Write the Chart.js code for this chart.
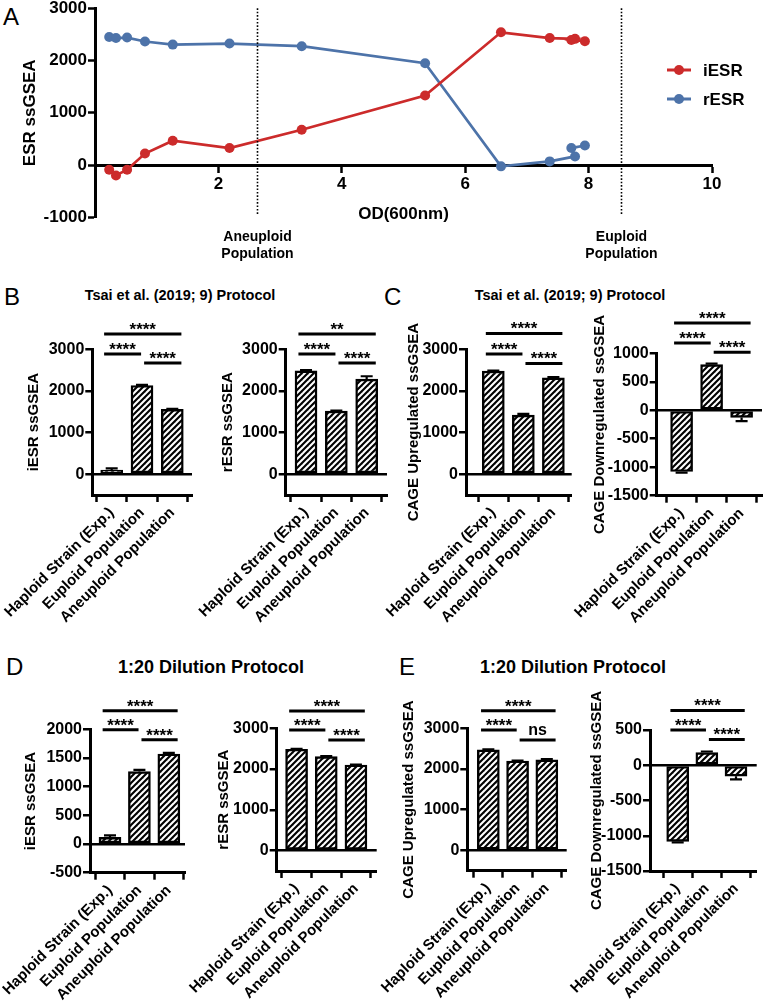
<!DOCTYPE html>
<html><head><meta charset="utf-8">
<script src="https://cdn.jsdelivr.net/npm/chart.js@4.4.1/dist/chart.umd.min.js"></script>
<style>
html,body{margin:0;padding:0;background:#fff;width:763px;height:1001px;overflow:hidden;position:relative;font-family:'Liberation Sans',Arial,sans-serif;}
canvas{position:absolute;}
.lbl{position:absolute;white-space:nowrap;color:#000;}
.letter{font-size:24px;line-height:24px;font-weight:normal;}
.ttl{font-weight:bold;transform:translateX(-50%);}
</style></head><body>
<div class="lbl letter" style="left:3px;top:5px">A</div>
<div class="lbl letter" style="left:4px;top:285px">B</div>
<div class="lbl letter" style="left:384px;top:285px">C</div>
<div class="lbl letter" style="left:6px;top:655px">D</div>
<div class="lbl letter" style="left:399px;top:655px">E</div>
<div class="lbl ttl" style="left:180px;top:288px;font-size:14.5px;line-height:14px">Tsai et al. (2019; 9) Protocol</div>
<div class="lbl ttl" style="left:570px;top:288px;font-size:14.5px;line-height:14px">Tsai et al. (2019; 9) Protocol</div>
<div class="lbl ttl" style="left:211px;top:658px;font-size:18px;line-height:18px">1:20 Dilution Protocol</div>
<div class="lbl ttl" style="left:573px;top:658px;font-size:18px;line-height:18px">1:20 Dilution Protocol</div>
<script>
const FONT = "'Liberation Sans', Arial, sans-serif";
const RED = '#cc2b2b';
const BLUE = '#4d73a9';

// ---------- Panel A data ----------
const odValues = [0.23, 0.34, 0.52, 0.81, 1.26, 2.18, 3.35, 5.35, 6.58, 7.37, 7.78, 7.72, 7.94];
const iESR = [-90, -200, -90, 220, 465, 325, 675, 1330, 2540, 2430, 2415, 2395, 2370];
const rESR = [2450, 2430, 2440, 2365, 2305, 2325, 2275, 1950, -25, 70, 165, 325, 375];
const odTicks = [2, 4, 6, 8, 10];
const esrTicks = [-1000, 0, 1000, 2000, 3000];
const phaseOD = [2.62, 8.52];
const phaseLabels = [['Aneuploid', 'Population'], ['Euploid', 'Population']];

// ---------- Bar panels data ----------
const categories = ['Haploid Strain (Exp.)', 'Euploid Population', 'Aneuploid Population'];
const tsaiIESR = [100, 2130, 1555];
const tsaiIESRErr = [40, 15, 15];
const tsaiRESR = [2483, 1515, 2283];
const tsaiRESRErr = [15, 15, 70];
const tsaiCageUp = [2476, 1418, 2315];
const tsaiCageUpErr = [15, 30, 15];
const tsaiCageDown = [-1075, 800, -125];
const tsaiCageDownErr = [20, 20, 65];
const dilIESR = [115, 1263, 1570];
const dilIESRErr = [35, 30, 20];
const dilRESR = [2487, 2305, 2100];
const dilRESRErr = [10, 15, 10];
const dilCageUp = [2470, 2195, 2225];
const dilCageUpErr = [10, 10, 15];
const dilCageDown = [-1080, 180, -155];
const dilCageDownErr = [15, 15, 45];
// significance: [Haploid vs Aneuploid, Haploid vs Euploid, Euploid vs Aneuploid]
const sigTsaiIESR = ['****', '****', '****'];
const sigTsaiRESR = ['**', '****', '****'];
const sigTsaiCageUp = ['****', '****', '****'];
const sigTsaiCageDown = ['****', '****', '****'];
const sigDilIESR = ['****', '****', '****'];
const sigDilRESR = ['****', '****', '****'];
const sigDilCageUp = ['****', '****', 'ns'];
const sigDilCageDown = ['****', '****', '****'];
const ticks3000 = [0, 1000, 2000, 3000];
const ticksDown1000 = [-1500, -1000, -500, 0, 500, 1000];
const ticks2000 = [-500, 0, 500, 1000, 1500, 2000];
const ticksDown500 = [-1500, -1000, -500, 0, 500];

// ---------- Panel A ----------
const phasePlugin = {
  id: 'phase',
  afterDraw(chart, args, o) {
    const {ctx} = chart; const x = chart.scales.x, y = chart.scales.y;
    ctx.save();
    ctx.strokeStyle = '#000'; ctx.lineWidth = 1.6; ctx.setLineDash([1.6, 1.8]);
    o.xs.forEach((v, i) => {
      const px = Math.round(x.getPixelForValue(v)) + 0.5;
      ctx.beginPath(); ctx.moveTo(px, y.getPixelForValue(y.max)); ctx.lineTo(px, y.getPixelForValue(y.min) - 2); ctx.stroke();
      ctx.fillStyle = '#000'; ctx.font = 'bold 14px ' + FONT; ctx.textAlign = 'center'; ctx.textBaseline = 'middle';
      o.labels[i].forEach((t, j) => ctx.fillText(t, px, o.labelY + j * 17));
    });
    ctx.setLineDash([]);
    // legend
    chart.data.datasets.forEach((ds, i) => {
      const ly = o.legendY + i * o.legendGap;
      ctx.strokeStyle = ds.borderColor; ctx.fillStyle = ds.borderColor; ctx.lineWidth = 3;
      ctx.beginPath(); ctx.moveTo(o.legendX, ly); ctx.lineTo(o.legendX + 24, ly); ctx.stroke();
      ctx.beginPath(); ctx.arc(o.legendX + 12, ly, 5, 0, Math.PI * 2); ctx.fill();
      ctx.fillStyle = '#000'; ctx.font = 'bold 17px ' + FONT; ctx.textAlign = 'left'; ctx.textBaseline = 'middle';
      ctx.fillText(ds.label, o.legendX + 36, ly + 1);
    });
    ctx.restore();
  }
};

(function () {
  const cv = document.createElement('canvas');
  cv.width = 763; cv.height = 270; cv.style.left = '0px'; cv.style.top = '0px';
  document.body.appendChild(cv);
  const L = 95, R = 712, T = 8.3, B = 217.3;
  new Chart(cv, {
    type: 'line',
    data: {datasets: [
      {label: 'iESR', data: odValues.map((x, i) => ({x, y: iESR[i]})), borderColor: RED, backgroundColor: RED,
       pointBackgroundColor: RED, pointRadius: 5, pointBorderWidth: 0, borderWidth: 2.7, tension: 0},
      {label: 'rESR', data: odValues.map((x, i) => ({x, y: rESR[i]})), borderColor: BLUE, backgroundColor: BLUE,
       pointBackgroundColor: BLUE, pointRadius: 5, pointBorderWidth: 0, borderWidth: 2.7, tension: 0}
    ]},
    options: {
      responsive: false, animation: false, devicePixelRatio: 1,
      layout: {padding: {left: 0, top: T, right: 763 - R, bottom: 270 - B}},
      plugins: {legend: {display: false}, tooltip: {enabled: false},
        phase: {xs: phaseOD, labels: phaseLabels, labelY: 237, legendX: 667, legendY: 70, legendGap: 29}},
      scales: {
        x: {type: 'linear', position: {y: 0}, min: 0, max: 10,
          afterBuildTicks: s => { s.ticks = odTicks.map(v => ({value: v})); },
          ticks: {color: '#000', padding: 3, font: {family: FONT, size: 17, weight: 'bold'}, callback: v => String(v)},
          grid: {drawOnChartArea: false, tickLength: 6, tickWidth: 2.5, tickColor: '#000', color: '#000'},
          border: {color: '#000', width: 3},
          title: {display: true, text: 'OD(600nm)', color: '#000', font: {family: FONT, size: 17, weight: 'bold'}, padding: {top: 7, bottom: 0}}
        },
        y: {type: 'linear', min: -1000, max: 3000,
          afterBuildTicks: s => { s.ticks = esrTicks.map(v => ({value: v})); },
          afterFit: s => { s.width = L; s.paddingTop = 0; s.paddingBottom = 0; },
          ticks: {color: '#000', padding: 1, font: {family: FONT, size: 17, weight: 'bold'}, callback: v => String(v)},
          grid: {drawOnChartArea: false, tickLength: 7, tickWidth: 2.5, tickColor: '#000', color: '#000'},
          border: {color: '#000', width: 3},
          title: {display: true, text: 'ESR ssGSEA', color: '#000', font: {family: FONT, size: 17, weight: 'bold'}, padding: {top: 20, bottom: 0}}
        }
      }
    },
    plugins: [phasePlugin]
  });
})();

// ---------- Bar panels ----------
function hatchPattern() {
  const n = 6;
  const c = document.createElement('canvas'); c.width = n; c.height = n;
  const g = c.getContext('2d');
  g.fillStyle = '#fff'; g.fillRect(0, 0, n, n);
  g.strokeStyle = '#000'; g.lineWidth = 2.1;
  [[-n, 0], [0, 0], [n, 0]].forEach(([dx]) => {
    g.beginPath(); g.moveTo(dx - 1, n + 1); g.lineTo(dx + n + 1, -1); g.stroke();
  });
  return g.createPattern(c, 'repeat');
}
const HATCH = hatchPattern();

const barExtras = {
  id: 'barExtras',
  afterDatasetsDraw(chart, args, o) {
    const {ctx} = chart; const x = chart.scales.x, y = chart.scales.y;
    ctx.save();
    ctx.strokeStyle = '#000'; ctx.lineWidth = 2.2;
    o.errors.forEach((e, i) => {
      const v = o.values[i]; const end = v >= 0 ? v + e : v - e;
      const px = x.getPixelForValue(i), y0 = y.getPixelForValue(v), y1 = y.getPixelForValue(end);
      ctx.beginPath(); ctx.moveTo(px, y0); ctx.lineTo(px, y1);
      ctx.moveTo(px - 6, y1); ctx.lineTo(px + 6, y1); ctx.stroke();
    });
    ctx.lineWidth = 3; ctx.fillStyle = '#000';
    ctx.textAlign = 'center'; ctx.textBaseline = 'alphabetic';
    o.brackets.forEach((b, k) => {
      const x0 = x.getPixelForValue(b[0]), x1 = x.getPixelForValue(b[1]), py = y.getPixelForValue(o.levels[k]);
      ctx.beginPath(); ctx.moveTo(x0, py); ctx.lineTo(x1, py); ctx.stroke();
      const t = o.labels[k];
      if (t === 'ns') { ctx.font = 'bold 16px ' + FONT; ctx.fillText(t, (x0 + x1) / 2, py - 5); }
      else { ctx.font = 'bold 17px ' + FONT; ctx.fillText(t, (x0 + x1) / 2, py + 1); }
    });
    ctx.restore();
  }
};

const bracketSpans = [[-0.25, 2.3], [-0.25, 0.97], [1.07, 2.3]];

function makeBar(p) {
  const cl = Math.floor(p.L - 115), ct = Math.floor(p.T - 48);
  const cr = Math.ceil(p.R + 8), cb = Math.ceil(p.B + 150);
  const cv = document.createElement('canvas');
  cv.width = cr - cl; cv.height = cb - ct;
  cv.style.left = cl + 'px'; cv.style.top = ct + 'px';
  document.body.appendChild(cv);
  new Chart(cv, {
    type: 'bar',
    data: {datasets: [{
      data: p.values.map((v, i) => ({x: i, y: v})),
      backgroundColor: HATCH, borderColor: '#000', borderWidth: 2.4, borderSkipped: false, barThickness: 22
    }]},
    options: {
      responsive: false, animation: false, devicePixelRatio: 1,
      layout: {padding: {left: 0, top: p.T - ct, right: cr - p.R, bottom: 0}},
      plugins: {legend: {display: false}, tooltip: {enabled: false},
        barExtras: {values: p.values, errors: p.errors, brackets: bracketSpans, levels: p.levels, labels: p.sig}},
      scales: {
        x: {type: 'linear', min: p.xMin, max: p.xMax, offset: false,
          afterBuildTicks: s => { s.ticks = categories.map((c, i) => ({value: i})); },
          afterFit: s => { s.height = cb - p.B; s.paddingLeft = 0; s.paddingRight = 0; },
          ticks: {autoSkip: false, minRotation: 45, maxRotation: 45, padding: 2, color: '#000',
            font: {family: FONT, size: 15, weight: 'bold'}, callback: v => categories[v]},
          grid: {drawOnChartArea: false, tickLength: 7, tickWidth: 2.5, tickColor: '#000', color: '#000'},
          border: {color: '#000', width: 3}
        },
        y: {type: 'linear', min: p.yMin, max: p.yMax,
          afterBuildTicks: s => { s.ticks = p.yTicks.map(v => ({value: v})); },
          afterFit: s => { s.width = p.L - cl; s.paddingTop = 0; s.paddingBottom = 0; },
          ticks: {padding: 1, color: '#000', font: {family: FONT, size: 16, weight: 'bold'}, callback: v => String(v)},
          grid: {drawOnChartArea: true, color: c => (c.tick && c.tick.value === 0) ? '#000' : 'rgba(0,0,0,0)',
            lineWidth: 2.5, tickColor: '#000', tickWidth: 2.5, tickLength: 7},
          border: {color: '#000', width: 3},
          title: {display: true, text: p.title, color: '#000', font: {family: FONT, size: 15, weight: 'bold'},
            padding: {top: p.titleX - cl - 9, bottom: 0}}
        }
      }
    },
    plugins: [barExtras]
  });
}

makeBar({L: 92.3, R: 192, T: 349.3, B: 495, yMin: -500, yMax: 3000, yTicks: ticks3000, xMin: -0.64, xMax: 2.65,
  title: 'iESR ssGSEA', titleX: 33.8, values: tsaiIESR, errors: tsaiIESRErr, sig: sigTsaiIESR, levels: [3368, 2885, 2668]});
makeBar({L: 285.7, R: 387, T: 349.3, B: 495, yMin: -500, yMax: 3000, yTicks: ticks3000, xMin: -0.67, xMax: 2.67,
  title: 'rESR ssGSEA', titleX: 227.5, values: tsaiRESR, errors: tsaiRESRErr, sig: sigTsaiRESR, levels: [3368, 2885, 2668]});
makeBar({L: 466, R: 571.7, T: 349.3, B: 495, yMin: -500, yMax: 3000, yTicks: ticks3000, xMin: -0.91, xMax: 2.61,
  title: 'CAGE Upregulated ssGSEA', titleX: 414, values: tsaiCageUp, errors: tsaiCageUpErr, sig: sigTsaiCageUp, levels: [3380, 2885, 2660]});
makeBar({L: 656.7, R: 762, T: 353.3, B: 495.7, yMin: -1500, yMax: 1000, yTicks: ticksDown1000, xMin: -0.83, xMax: 2.68,
  title: 'CAGE Downregulated ssGSEA', titleX: 599.8, values: tsaiCageDown, errors: tsaiCageDownErr, sig: sigTsaiCageDown, levels: [1533, 1182, 1018]});
makeBar({L: 90, R: 185, T: 729.3, B: 872.7, yMin: -500, yMax: 2000, yTicks: ticks2000, xMin: -0.68, xMax: 2.55,
  title: 'iESR ssGSEA', titleX: 31, values: dilIESR, errors: dilIESRErr, sig: sigDilIESR, levels: [2322, 1991, 1817]});
makeBar({L: 276.7, R: 376.7, T: 728.3, B: 871, yMin: -500, yMax: 3000, yTicks: ticks3000, xMin: -0.67, xMax: 2.7,
  title: 'rESR ssGSEA', titleX: 224, values: dilRESR, errors: dilRESRErr, sig: sigDilRESR, levels: [3423, 2958, 2714]});
makeBar({L: 467.3, R: 566.7, T: 728.3, B: 870.7, yMin: -500, yMax: 3000, yTicks: ticks3000, xMin: -0.72, xMax: 2.68,
  title: 'CAGE Upregulated ssGSEA', titleX: 409, values: dilCageUp, errors: dilCageUpErr, sig: sigDilCageUp, levels: [3430, 2958, 2714]});
makeBar({L: 650, R: 756.7, T: 730, B: 871, yMin: -1500, yMax: 500, yTicks: ticksDown500, xMin: -0.95, xMax: 2.71,
  title: 'CAGE Downregulated ssGSEA', titleX: 596.7, values: dilCageDown, errors: dilCageDownErr, sig: sigDilCageDown, levels: [778, 500, 367]});
</script>
</body></html>
